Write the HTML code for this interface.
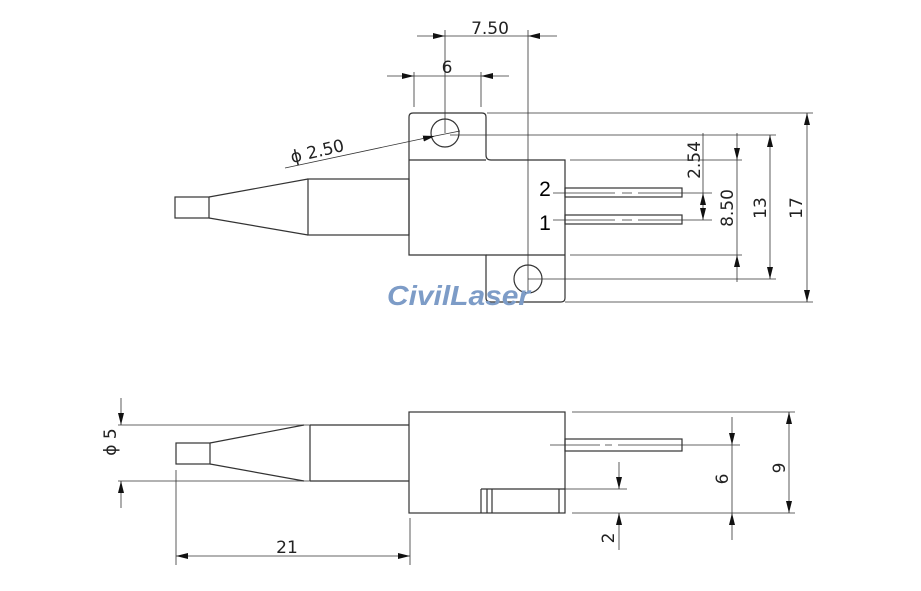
<!DOCTYPE html>
<html><head><meta charset="utf-8"><style>
html,body{margin:0;padding:0;background:#fff;}
svg{display:block;}
text{font-family:"DejaVu Sans","Liberation Sans",sans-serif;fill:#222;}
</style></head><body>
<svg width="921" height="591" viewBox="0 0 921 591" xmlns="http://www.w3.org/2000/svg">
<defs>
<marker id="a" viewBox="0 0 12 6" refX="12" refY="3" markerWidth="12" markerHeight="6" markerUnits="userSpaceOnUse" orient="auto-start-reverse"><path d="M0,0 L12,3 L0,6 z" fill="#111"/></marker>
</defs>
<g fill="none" stroke="#333" stroke-width="1.2">
<!-- TOP VIEW -->
<path d="M409,160 L409,117 Q409,113 413,113 L482,113 Q486,113 486,117 L486,155 Q486,160 491,160 L565,160 L565,298 Q565,302 561,302 L491,302 Q486,302 486,298 L486,255 L409,255 Z"/>
<path d="M409,160 L486,160 M486,255 L565,255"/>
<circle cx="445" cy="133" r="14"/>
<circle cx="528" cy="279" r="14"/>
<rect x="308" y="179" width="101" height="56"/>
<path d="M209,197 L308,179 M209,218 L308,235"/>
<rect x="175" y="197" width="34" height="21"/>
<!-- pins -->
<rect x="565" y="188" width="117" height="9"/>
<rect x="565" y="215" width="117" height="9"/>
</g>
<g stroke="#333" stroke-width="0.8" fill="none">
<path d="M553,193 L615,193 M622,193 L632,193 M638,193 L712,193"/>
<path d="M553,220 L615,220 M622,220 L632,220 M638,220 L712,220"/>
<path d="M445,30 L445,133 M528,30 L528,292 M414,72 L414,107 M481,72 L481,107"/>
<path d="M487,113 L813,113 M450,135 L776,135 M570,160 L742,160 M570,255 L742,255 M528,279 L776,279 M565,302 L813,302"/>
<line x1="417" y1="36" x2="445" y2="36" marker-end="url(#a)"/>
<line x1="445" y1="36" x2="528" y2="36"/>
<line x1="557" y1="36" x2="528" y2="36" marker-end="url(#a)"/>
<line x1="387" y1="76" x2="414" y2="76" marker-end="url(#a)"/>
<line x1="414" y1="76" x2="481" y2="76"/>
<line x1="509" y1="76" x2="481" y2="76" marker-end="url(#a)"/>
<line x1="285" y1="168" x2="435" y2="136" marker-end="url(#a)"/>
<line x1="435" y1="136" x2="460" y2="131"/>
<line x1="807" y1="113" x2="807" y2="302" marker-start="url(#a)" marker-end="url(#a)"/>
<line x1="770" y1="135" x2="770" y2="279" marker-start="url(#a)" marker-end="url(#a)"/>
<line x1="737" y1="133" x2="737" y2="160" marker-end="url(#a)"/>
<line x1="737" y1="160" x2="737" y2="255"/>
<line x1="737" y1="282" x2="737" y2="255" marker-end="url(#a)"/>
<line x1="703" y1="133" x2="703" y2="193"/>
<line x1="703" y1="206" x2="703" y2="193" marker-end="url(#a)"/>
<line x1="703" y1="206" x2="703" y2="220" marker-end="url(#a)"/>
</g>
<text x="490" y="34" font-size="17" text-anchor="middle">7.50</text>
<text x="447" y="73" font-size="17" text-anchor="middle">6</text>
<text x="0" y="0" font-size="17" transform="translate(292,163) rotate(-13)">ϕ 2.50</text>
<text font-size="17" text-anchor="middle" transform="translate(802,208) rotate(-90)">17</text>
<text font-size="17" text-anchor="middle" transform="translate(766,208) rotate(-90)">13</text>
<text font-size="17" text-anchor="middle" transform="translate(733,208) rotate(-90)">8.50</text>
<text font-size="17" text-anchor="middle" transform="translate(700,160) rotate(-90)">2.54</text>
<text x="545" y="196" font-size="21" text-anchor="middle" style="fill:#000;font-family:'Liberation Sans',sans-serif">2</text>
<text x="545" y="230" font-size="21" text-anchor="middle" style="fill:#000;font-family:'Liberation Sans',sans-serif">1</text>
<text x="387" y="305" font-size="28" font-weight="bold" font-style="italic" textLength="143" lengthAdjust="spacingAndGlyphs" style="fill:#7d9cc7;font-family:'Liberation Sans',sans-serif">CivilLaser</text>

<!-- BOTTOM VIEW -->
<g fill="none" stroke="#333" stroke-width="1.2">
<rect x="409" y="412" width="156" height="101"/>
<path d="M310,425 L409,425 M310,481 L409,481 M310,425 L310,481"/>
<path d="M210,443 L304,425 M210,464 L304,481"/>
<rect x="176" y="443" width="34" height="21"/>
<rect x="565" y="439" width="117" height="12"/>
<path d="M481,489 L565,489 M481,489 L481,513 M487,489 L487,513 M492,489 L492,513 M559,489 L559,513"/>
</g>
<g stroke="#333" stroke-width="0.8" fill="none">
<path d="M118,425 L310,425 M118,481 L310,481"/>
<path d="M550,445 L600,445 M605,445 L612,445 M618,445 L740,445"/>
<path d="M565,489 L627,489 M572,412 L795,412 M572,513 L795,513"/>
<path d="M176,470 L176,565 M410,518 L410,565"/>
<line x1="121" y1="398" x2="121" y2="425" marker-end="url(#a)"/>
<line x1="121" y1="508" x2="121" y2="481" marker-end="url(#a)"/>
<line x1="176" y1="556" x2="410" y2="556" marker-start="url(#a)" marker-end="url(#a)"/>
<line x1="619" y1="462" x2="619" y2="489" marker-end="url(#a)"/>
<line x1="619" y1="550" x2="619" y2="513" marker-end="url(#a)"/>
<line x1="732" y1="417" x2="732" y2="445" marker-end="url(#a)"/>
<line x1="732" y1="445" x2="732" y2="513"/>
<line x1="732" y1="540" x2="732" y2="513" marker-end="url(#a)"/>
<line x1="789" y1="412" x2="789" y2="513" marker-start="url(#a)" marker-end="url(#a)"/>
</g>
<text font-size="17" text-anchor="middle" transform="translate(116,442) rotate(-90)">ϕ 5</text>
<text x="287" y="553" font-size="17" text-anchor="middle">21</text>
<text font-size="17" text-anchor="middle" transform="translate(614,538) rotate(-90)">2</text>
<text font-size="17" text-anchor="middle" transform="translate(728,479) rotate(-90)">6</text>
<text font-size="17" text-anchor="middle" transform="translate(785,468) rotate(-90)">9</text>
</svg>
</body></html>
